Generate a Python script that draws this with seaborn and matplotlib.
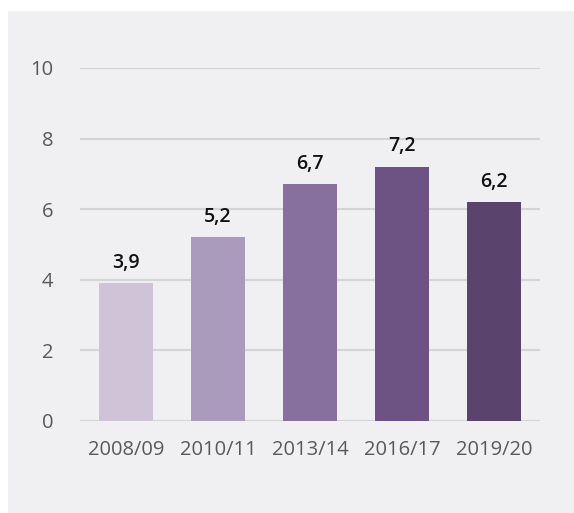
import matplotlib
matplotlib.use("Agg")
import matplotlib.pyplot as plt
import seaborn as sns
import pandas as pd

# -------------------------
# Data
years = ["2008/09", "2010/11", "2013/14", "2016/17", "2019/20"]
values = [3.9, 5.2, 6.7, 7.2, 6.2]
bar_colors = ["#cfc0da", "#a995c2", "#8768a6", "#6c4b8c", "#5b3d74"]
y_ticks = [0, 2, 4, 6, 8, 10]

data = pd.DataFrame({"year": years, "value": values})

# -------------------------
# Style
sns.set_style("white")
plt.rcParams["font.family"] = ["Open Sans", "DejaVu Sans"]

fig = plt.figure(figsize=(5.74, 5.13), dpi=100, facecolor="white")

# light grey panel behind the chart
bg = fig.add_axes([8 / 574, 0, 566 / 574, 502 / 513], zorder=0)
bg.set_facecolor("#f0f0f3")
bg.set_xticks([])
bg.set_yticks([])
for s in bg.spines.values():
    s.set_visible(False)

ax = fig.add_axes([80 / 574, 92 / 513, 460 / 574, 353 / 513], zorder=1)
ax.set_facecolor("none")

sns.barplot(x="year", y="value", data=data, hue="year", palette=bar_colors,
            legend=False, width=0.58, ax=ax, zorder=3, linewidth=0)

# value labels with decimal comma
for i, v in enumerate(values):
    ax.text(i, v + 0.3, f"{v:.1f}".replace(".", ","), ha="center", va="bottom",
            fontsize=14, fontweight="semibold", color="#111111", clip_on=False)

ax.set_ylim(0, 10)
ax.set_xlim(-0.5, 4.5)
ax.set_yticks(y_ticks)
ax.yaxis.grid(True, color="#d4d4d6", linewidth=1.5, zorder=0)
ax.set_axisbelow(True)
ax.set_xlabel("")
ax.set_ylabel("")
for s in ax.spines.values():
    s.set_visible(False)
ax.tick_params(axis="y", length=0, pad=19, labelsize=14.5, labelcolor="#595959")
ax.tick_params(axis="x", length=0, pad=14, labelsize=14.5, labelcolor="#595959")

fig.savefig("out.png", dpi=100, facecolor="white")
